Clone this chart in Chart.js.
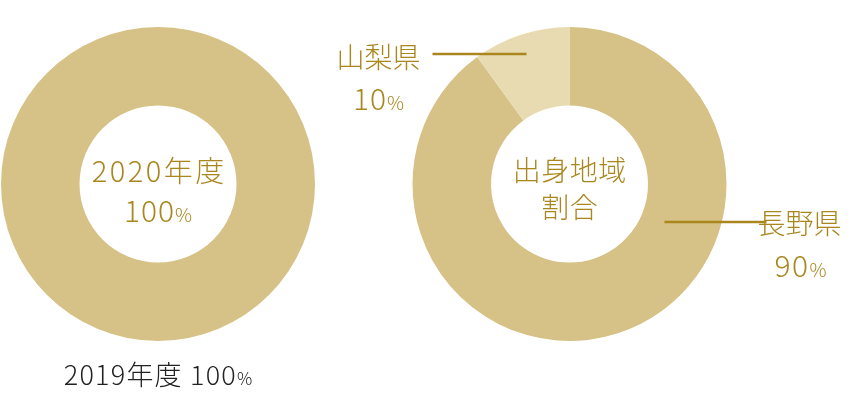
<!DOCTYPE html>
<html>
<head>
<meta charset="utf-8">
<script src="https://cdn.jsdelivr.net/npm/chart.js"></script>
<style>
  html, body { margin: 0; padding: 0; background: #ffffff; }
  #wrap { position: relative; width: 864px; height: 400px; }
  canvas { position: absolute; left: 0; top: 0; }
</style>
</head>
<body>
<div id="wrap">
  <canvas id="left" width="864" height="400"></canvas>
  <canvas id="right" width="864" height="400"></canvas>
</div>
<script>
// ---- data ----
const yearCurrent = '2020年度';
const yearCurrentShare = [100];
const yearPrevious = '2019年度';
const yearPreviousShare = 100;
const regionTitleLines = ['出身地域', '割合'];
const regions = ['長野県', '山梨県'];
const regionShares = [90, 10];

// ---- styles ----
const GOLD = '#aa861e';
const FILL = '#d6c286';
const FILL_LIGHT = '#e8dbb2';
const DARK = '#222222';
const FONT = '"Noto Sans CJK JP", "Noto Sans", sans-serif';

function font(size, weight) { return (weight || 300) + ' ' + size + 'px ' + FONT; }

// draw a number with a smaller % sign, horizontally centered at x
function drawPct(ctx, value, x, y, numSize, pctSize, color, spacing) {
  const num = String(value);
  ctx.save();
  ctx.fillStyle = color;
  ctx.textBaseline = 'alphabetic';
  ctx.textAlign = 'left';
  ctx.font = font(numSize);
  ctx.letterSpacing = (spacing || 0) + 'px';
  const wNum = ctx.measureText(num).width;
  ctx.font = font(pctSize);
  ctx.letterSpacing = '0px';
  const wPct = ctx.measureText('%').width;
  const start = x - (wNum + wPct) / 2;
  ctx.font = font(numSize);
  ctx.letterSpacing = (spacing || 0) + 'px';
  ctx.fillText(num, start, y);
  ctx.font = font(pctSize);
  ctx.letterSpacing = '0px';
  ctx.fillText('%', start + wNum, y);
  ctx.restore();
}

function drawText(ctx, text, x, y, size, color, spacing) {
  ctx.save();
  ctx.fillStyle = color;
  ctx.font = font(size);
  ctx.letterSpacing = (spacing || 0) + 'px';
  ctx.textAlign = 'left';
  ctx.textBaseline = 'alphabetic';
  const w = ctx.measureText(text).width - (spacing || 0);
  ctx.fillText(text, x - w / 2, y);
  ctx.restore();
}

const leftLabels = {
  id: 'leftLabels',
  afterDraw(chart) {
    const arc = chart.getDatasetMeta(0).data[0];
    const cx = arc.x, cy = arc.y, R = arc.outerRadius;
    const ctx = chart.ctx;
    drawText(ctx, yearCurrent, cx, cy - 2, 29, GOLD, 2.5);
    drawPct(ctx, yearCurrentShare[0], cx, cy + 38, 30, 19, GOLD, 1);
    // previous year line under the donut
    ctx.save();
    ctx.fillStyle = DARK;
    ctx.textBaseline = 'alphabetic';
    ctx.textAlign = 'left';
    ctx.font = font(27);
    ctx.letterSpacing = '1.2px';
    const t1 = yearPrevious + ' ';
    const w1 = ctx.measureText(t1).width;
    const wn = ctx.measureText(String(yearPreviousShare)).width;
    ctx.font = font(17);
    ctx.letterSpacing = '0px';
    const wp = ctx.measureText('%').width;
    const start = cx - (w1 + wn + wp) / 2;
    const by = cy + R + 44;
    ctx.font = font(27);
    ctx.letterSpacing = '1.2px';
    ctx.fillText(t1, start, by);
    ctx.fillText(String(yearPreviousShare), start + w1, by);
    ctx.font = font(17);
    ctx.letterSpacing = '0px';
    ctx.fillText('%', start + w1 + wn, by);
    ctx.restore();
  }
};

const rightLabels = {
  id: 'rightLabels',
  afterDraw(chart) {
    const meta = chart.getDatasetMeta(0);
    const arc = meta.data[0];
    const cx = arc.x, cy = arc.y;
    const ctx = chart.ctx;
    drawText(ctx, regionTitleLines[0], cx, cy - 3, 28, GOLD, 0.5);
    drawText(ctx, regionTitleLines[1], cx, cy + 34, 28, GOLD, 0.5);

    ctx.save();
    ctx.strokeStyle = GOLD;
    ctx.lineWidth = 2.5;
    // 山梨県 leader
    ctx.beginPath();
    ctx.moveTo(cx - 137, cy - 130);
    ctx.lineTo(cx - 43, cy - 130);
    ctx.stroke();
    // 長野県 leader
    ctx.beginPath();
    ctx.moveTo(cx + 95, cy + 38);
    ctx.lineTo(cx + 197, cy + 38);
    ctx.stroke();
    ctx.restore();

    drawText(ctx, regions[1], cx - 191, cy - 116, 28, GOLD, 0);
    drawPct(ctx, regionShares[1], cx - 191, cy - 74, 30, 19, GOLD, 1);
    drawText(ctx, regions[0], cx + 230, cy + 50, 28, GOLD, 0);
    drawPct(ctx, regionShares[0], cx + 231, cy + 93, 30, 19, GOLD, 1.5);
  }
};

const common = {
  responsive: false,
  animation: false,
  cutout: '50%',
  events: [],
  plugins: { legend: { display: false }, tooltip: { enabled: false } }
};

new Chart(document.getElementById('left'), {
  type: 'doughnut',
  data: {
    labels: [yearCurrent],
    datasets: [{ data: yearCurrentShare, backgroundColor: [FILL], borderWidth: 0 }]
  },
  options: Object.assign({}, common, {
    layout: { padding: { left: 0, right: 548, top: 27, bottom: 59 } }
  }),
  plugins: [leftLabels]
});

new Chart(document.getElementById('right'), {
  type: 'doughnut',
  data: {
    labels: regions,
    datasets: [{ data: regionShares, backgroundColor: [FILL, FILL_LIGHT], borderWidth: 0 }]
  },
  options: Object.assign({}, common, {
    layout: { padding: { left: 412, right: 137, top: 27, bottom: 59 } }
  }),
  plugins: [rightLabels]
});
</script>
</body>
</html>
